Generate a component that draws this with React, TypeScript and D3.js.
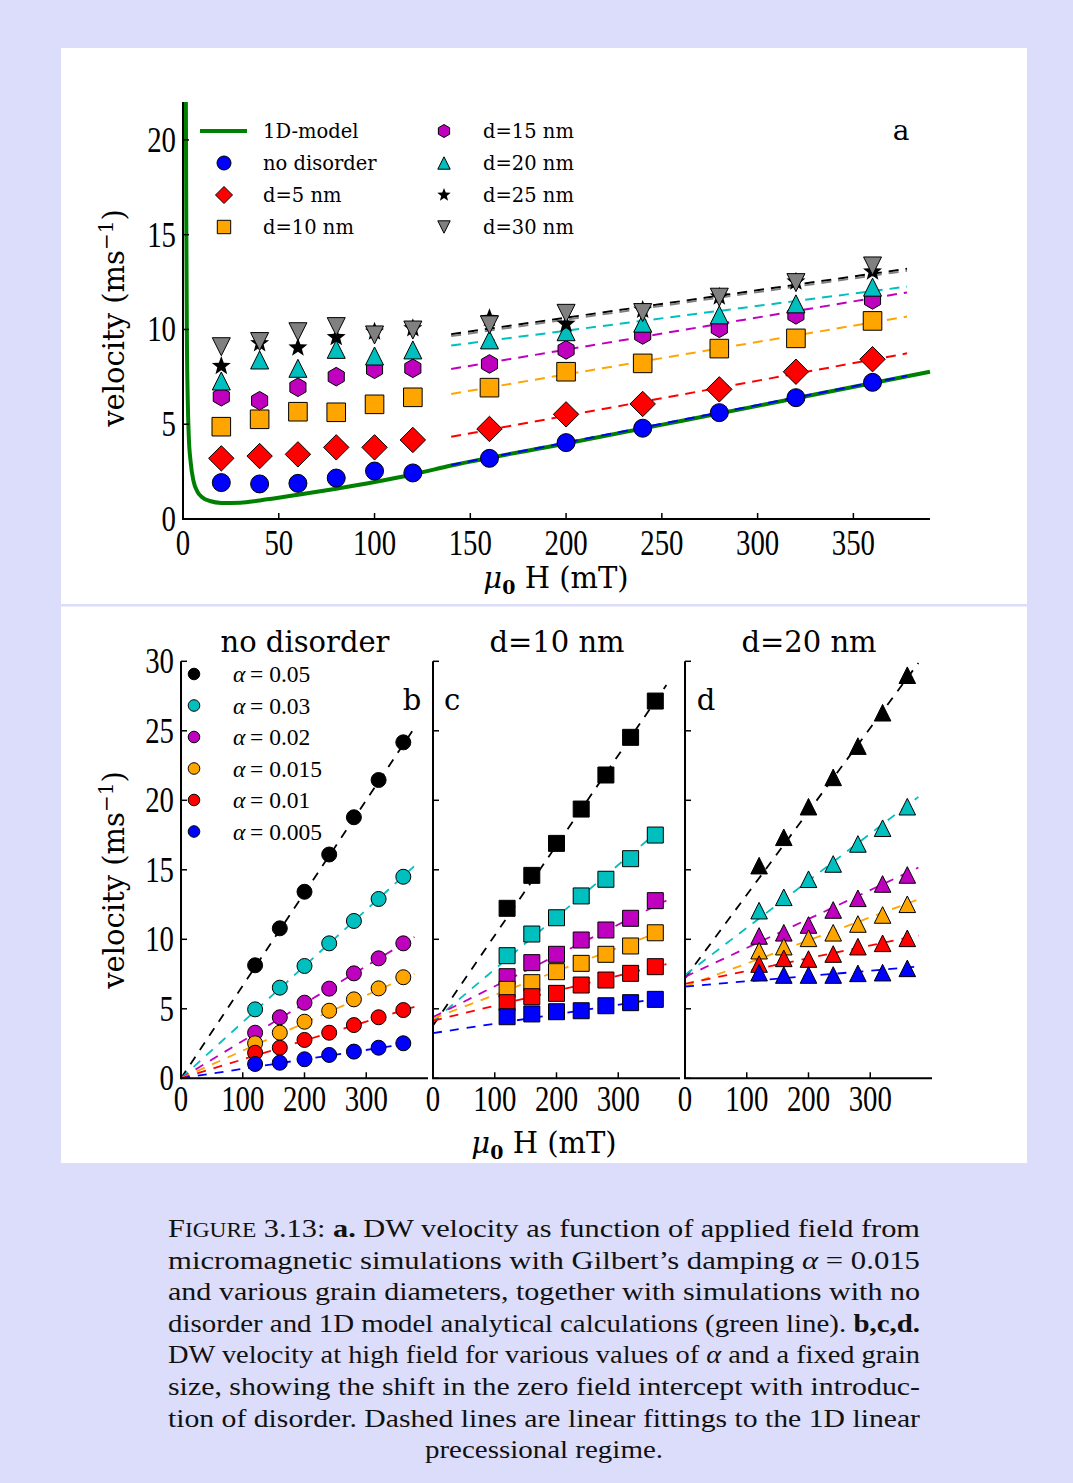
import React from 'react';
import * as d3 from 'd3';

// ---------- Panel a data ----------
const fieldA = [20, 40, 60, 80, 100, 120, 160, 200, 240, 280, 320, 360];
const noDisorderA = [1.92, 1.85, 1.88, 2.16, 2.53, 2.43, 3.2, 4.03, 4.79, 5.61, 6.4, 7.21];
const d5A = [3.2, 3.32, 3.41, 3.78, 3.78, 4.17, 4.75, 5.52, 6.07, 6.84, 7.77, 8.43];
const d10A = [4.87, 5.26, 5.66, 5.63, 6.05, 6.42, 6.93, 7.77, 8.21, 8.99, 9.53, 10.45];
const d15A = [6.45, 6.24, 6.95, 7.51, 7.9, 7.95, 8.18, 8.92, 9.71, 10.06, 10.77, 11.56];
const d20A = [7.28, 8.39, 7.95, 8.95, 8.6, 8.92, 9.45, 9.88, 10.33, 10.77, 11.35, 12.23];
const d25A = [8.07, 9.27, 9.04, 9.59, 9.88, 10.06, 10.59, 10.29, 11.03, 11.73, 12.52, 13.05];
const d30A = [9.09, 9.36, 9.88, 10.15, 9.71, 9.97, 10.24, 10.85, 10.89, 11.7, 12.47, 13.35];
const labelsA = ['no disorder', 'd=5 nm', 'd=10 nm', 'd=15 nm', 'd=20 nm', 'd=25 nm', 'd=30 nm'];
// linear fits (same order as labelsA)
const fitInterceptA = [0.085, 1.75, 4.2, 5.54, 7.32, 7.72, 7.62];
const fitSlopeA = [0.01975, 0.01849, 0.01714, 0.01697, 0.01307, 0.0145, 0.0145];
const fitRangeA = [140, 378];
// 1D model curve
const modelField = [1.5, 1.7, 2.0, 2.5, 3.0, 4.0, 5.5, 7.5, 10, 14, 20, 30, 40, 60, 80, 100, 120, 140, 200, 260, 320, 390];
const modelVel = [22, 16, 10, 6.2, 4.4, 3.0, 2.0, 1.45, 1.15, 0.95, 0.85, 0.86, 0.98, 1.28, 1.6, 1.95, 2.35, 2.82, 3.98, 5.17, 6.37, 7.77];
const xTicksA = [0, 50, 100, 150, 200, 250, 300, 350];
const yTicksA = [0, 5, 10, 15, 20];

// ---------- Panels b, c, d data ----------
const fieldB = [120, 160, 200, 240, 280, 320, 360];
const alphaLabels = ['0.05', '0.03', '0.02', '0.015', '0.01', '0.005'];
const panelTitles = ['no disorder', 'd=10 nm', 'd=20 nm'];
const panelLetters = ['b', 'c', 'd'];
// no disorder
const b05 = [8.13, 10.79, 13.42, 16.1, 18.78, 21.46, 24.17];
const b03 = [4.96, 6.52, 8.08, 9.71, 11.32, 12.9, 14.5];
const b02 = [3.28, 4.39, 5.44, 6.45, 7.55, 8.63, 9.71];
const b015 = [2.52, 3.28, 4.07, 4.86, 5.68, 6.47, 7.27];
const b01 = [1.84, 2.2, 2.76, 3.28, 3.83, 4.39, 4.91];
const b005 = [1.03, 1.12, 1.37, 1.68, 1.92, 2.2, 2.52];
const fitInterceptB = [0, 0, 0, 0, 0, 0];
const fitSlopeB = [0.0667, 0.0404, 0.0269, 0.0199, 0.0136, 0.0068];
// d = 10 nm
const c05 = [12.23, 14.6, 16.9, 19.37, 21.82, 24.53, 27.14];
const c03 = [8.82, 10.38, 11.55, 13.12, 14.32, 15.8, 17.5];
const c02 = [7.31, 8.32, 8.92, 9.95, 10.67, 11.51, 12.78];
const c015 = [6.4, 6.88, 7.67, 8.27, 8.92, 9.52, 10.47];
const c01 = [5.44, 5.87, 6.11, 6.71, 7.07, 7.55, 8.03];
const c005 = [4.43, 4.63, 4.79, 4.86, 5.22, 5.44, 5.68];
const fitInterceptC = [3.8, 4.1, 4.4, 4.3, 4.14, 3.25];
const fitSlopeC = [0.0648, 0.0375, 0.0222, 0.017, 0.0108, 0.0068];
// d = 20 nm
const d05 = [15.3, 17.34, 19.54, 21.65, 23.9, 26.3, 29.0];
const d03 = [12.06, 13.02, 14.32, 15.42, 16.86, 17.99, 19.54];
const d02 = [10.24, 10.47, 11.03, 12.11, 12.95, 13.98, 14.63];
const d015 = [9.18, 9.47, 10.07, 10.47, 11.1, 11.75, 12.52];
const d01 = [8.22, 8.63, 8.58, 8.94, 9.47, 9.71, 10.07];
const d005 = [7.6, 7.43, 7.43, 7.43, 7.55, 7.6, 7.91];
const fitInterceptD = [7.2, 7.43, 7.3, 6.6, 6.8, 6.6];
const fitSlopeD = [0.06, 0.0339, 0.0208, 0.0166, 0.0092, 0.0038];
const fitRangeB = [0, 378];
const xTicksB = [0, 100, 200, 300];
const yTicksB = [0, 5, 10, 15, 20, 25, 30];

// ---------- styles ----------
const BG = '#dcdcfb';
const colA = ['#0000ff', '#ff0000', '#ffa500', '#bf00bf', '#00bfbf', '#000000', '#808080'];
const colB = ['#000000', '#00bfbf', '#bf00bf', '#ffa500', '#ff0000', '#0000ff'];
const TICKFONT = 'Liberation Serif, Times New Roman, serif';
const LABFONT = 'DejaVu Serif, serif';

// custom marker shapes (size param = half-extent)
const circleT = { draw(c: any, r: number) { c.moveTo(r, 0); c.arc(0, 0, r, 0, 2 * Math.PI); } };
const squareT = { draw(c: any, r: number) { c.rect(-r, -r, 2 * r, 2 * r); } };
const diamondT = { draw(c: any, r: number) { c.moveTo(0, -r); c.lineTo(r, 0); c.lineTo(0, r); c.lineTo(-r, 0); c.closePath(); } };
const hexT = {
  draw(c: any, r: number) {
    for (let i = 0; i < 6; i++) {
      const a = (-90 + 60 * i) * Math.PI / 180;
      const px = r * Math.cos(a), py = r * Math.sin(a);
      if (i === 0) c.moveTo(px, py); else c.lineTo(px, py);
    }
    c.closePath();
  },
};
const triUpT = { draw(c: any, r: number) { c.moveTo(0, -r); c.lineTo(r, r); c.lineTo(-r, r); c.closePath(); } };
const triDownT = { draw(c: any, r: number) { c.moveTo(0, r); c.lineTo(r, -r); c.lineTo(-r, -r); c.closePath(); } };
const starT = {
  draw(c: any, r: number) {
    const ri = r * 0.42;
    for (let i = 0; i < 10; i++) {
      const a = (-90 + 36 * i) * Math.PI / 180;
      const rr = i % 2 === 0 ? r : ri;
      const px = rr * Math.cos(a), py = rr * Math.sin(a);
      if (i === 0) c.moveTo(px, py); else c.lineTo(px, py);
    }
    c.closePath();
  },
};
const shapesA = [circleT, diamondT, squareT, hexT, triUpT, starT, triDownT];
const sizesA = [9, 12.7, 9.3, 9.3, 9, 10, 9];
const legSizesA = [7, 8.5, 6.7, 6.5, 6.2, 7, 6.2];
const shapesB = [circleT, squareT, triUpT];
const sizesB = [7.5, 8, 8.3];

const sym = (t: any, r: number) => d3.symbol(t, r)() as string;

const Tick = ({ x, y, anchor, children }: any) => (
  <text transform={`translate(${x},${y}) scale(0.8,1)`} textAnchor={anchor} fontFamily={TICKFONT} fontSize={36} fill="#000">{children}</text>
);

export default function App() {
  const xA = d3.scaleLinear().domain([0, 390]).range([183, 930]);
  const yA = d3.scaleLinear().domain([0, 22]).range([519, 102]);
  const valsA = [noDisorderA, d5A, d10A, d15A, d20A, d25A, d30A];
  const modelLine = d3.line<number>().x((_, i) => xA(modelField[i])).y((d) => yA(d)).curve(d3.curveMonotoneX);

  const yB = d3.scaleLinear().domain([0, 30]).range([1078.3, 661.3]);
  const panelX0 = [181, 433, 685];
  const panelVals = [
    [b05, b03, b02, b015, b01, b005],
    [c05, c03, c02, c015, c01, c005],
    [d05, d03, d02, d015, d01, d005],
  ];
  const panelInt = [fitInterceptB, fitInterceptC, fitInterceptD];
  const panelSlope = [fitSlopeB, fitSlopeC, fitSlopeD];

  const legRows = [131, 163, 195, 227];
  const legPosA = [
    [224, 263, legRows[1]], [224, 263, legRows[2]], [224, 263, legRows[3]],
    [444, 483, legRows[0]], [444, 483, legRows[1]], [444, 483, legRows[2]], [444, 483, legRows[3]],
  ];

  const capX = 168, capW = 752;
  const capBase = (i: number) => 1237 + 31.6 * i;

  return (
    <svg width={1073} height={1483} style={{ position: 'absolute', left: 0, top: 0 }} xmlns="http://www.w3.org/2000/svg">
      <rect x={0} y={0} width={1073} height={1483} fill={BG} />
      <rect x={61} y={48} width={966} height={556} fill="#fff" />
      <rect x={61} y={606.5} width={966} height={556.5} fill="#fff" />

      {/* ================= Panel a ================= */}
      <path d={modelLine(modelVel) as string} fill="none" stroke="#008000" strokeWidth={4} />
      {fitInterceptA.map((a, i) => (
        <line key={'fa' + i} x1={xA(fitRangeA[0])} x2={xA(fitRangeA[1])}
          y1={yA(a + fitSlopeA[i] * fitRangeA[0])} y2={yA(a + fitSlopeA[i] * fitRangeA[1])}
          stroke={colA[i]} strokeWidth={2} strokeDasharray="10,7" />
      ))}
      {valsA.map((vals, si) => (
        <g key={'sa' + si}>
          {vals.map((v, j) => (
            <path key={j} d={sym(shapesA[si], sizesA[si])} transform={`translate(${xA(fieldA[j])},${yA(v)})`}
              fill={colA[si]} stroke={si === 5 ? 'none' : '#000'} strokeWidth={1} />
          ))}
        </g>
      ))}
      {/* axes a */}
      <line x1={xA(0)} x2={xA(0)} y1={yA(0)} y2={yA(22)} stroke="#000" strokeWidth={2} />
      <line x1={xA(0) - 1} x2={xA(390)} y1={yA(0)} y2={yA(0)} stroke="#000" strokeWidth={2} />
      {xTicksA.map((t) => (
        <g key={'xt' + t}>
          <line x1={xA(t)} x2={xA(t)} y1={yA(0)} y2={yA(0) - 6} stroke="#000" strokeWidth={1.5} />
          <Tick x={xA(t)} y={555} anchor="middle">{t}</Tick>
        </g>
      ))}
      {yTicksA.map((t) => (
        <g key={'yt' + t}>
          <line x1={xA(0)} x2={xA(0) + 6} y1={yA(t)} y2={yA(t)} stroke="#000" strokeWidth={1.5} />
          <Tick x={176} y={yA(t) + 12} anchor="end">{t}</Tick>
        </g>
      ))}
      {/* legend a */}
      <line x1={200} x2={247} y1={legRows[0]} y2={legRows[0]} stroke="#008000" strokeWidth={4} />
      <text x={263} y={legRows[0] + 7} fontFamily={LABFONT} fontSize={19.5}>1D-model</text>
      {labelsA.map((lab, i) => (
        <g key={'la' + i}>
          <path d={sym(shapesA[i], legSizesA[i])} transform={`translate(${legPosA[i][0]},${legPosA[i][2]})`}
            fill={colA[i]} stroke={i === 5 ? 'none' : '#000'} strokeWidth={1} />
          <text x={legPosA[i][1]} y={legPosA[i][2] + 7} fontFamily={LABFONT} fontSize={19.5}>{lab}</text>
        </g>
      ))}
      <text x={901} y={140} textAnchor="middle" fontFamily={LABFONT} fontSize={28}>a</text>
      {/* axis labels a */}
      <text transform="translate(124,318) rotate(-90)" textAnchor="middle" fontFamily={LABFONT} fontSize={29}>
        velocity (ms<tspan dy={-11} fontSize={20}>−1</tspan><tspan dy={11}>)</tspan>
      </text>
      <text x={556} y={588} textAnchor="middle" fontFamily={LABFONT} fontSize={29}>
        <tspan fontStyle="italic">μ</tspan><tspan fontSize={19} dy={6} fontWeight="bold">0</tspan><tspan dy={-6}> H (mT)</tspan>
      </text>

      {/* ================= Panels b, c, d ================= */}
      {panelX0.map((x0, p) => {
        const xB = d3.scaleLinear().domain([0, 400]).range([x0, x0 + 247]);
        return (
          <g key={'p' + p}>
            {panelInt[p].map((a, i) => (
              <line key={'fb' + i} x1={xB(fitRangeB[0])} x2={xB(fitRangeB[1])}
                y1={yB(a + panelSlope[p][i] * fitRangeB[0])} y2={yB(Math.min(30, a + panelSlope[p][i] * fitRangeB[1]))}
                stroke={colB[i]} strokeWidth={1.8} strokeDasharray="9,8" />
            ))}
            {panelVals[p].map((vals, si) => (
              <g key={'sb' + si}>
                {vals.map((v, j) => (
                  <path key={j} d={sym(shapesB[p], sizesB[p])} transform={`translate(${xB(fieldB[j])},${yB(v)})`}
                    fill={colB[si]} stroke="#000" strokeWidth={1} />
                ))}
              </g>
            ))}
            <line x1={x0} x2={x0} y1={yB(0)} y2={yB(30)} stroke="#000" strokeWidth={2} />
            <line x1={x0 - 1} x2={xB(400)} y1={yB(0)} y2={yB(0)} stroke="#000" strokeWidth={2} />
            {xTicksB.map((t) => (
              <g key={'xb' + t}>
                <line x1={xB(t)} x2={xB(t)} y1={yB(0)} y2={yB(0) - 6} stroke="#000" strokeWidth={1.5} />
                <Tick x={xB(t)} y={1111} anchor="middle">{t}</Tick>
              </g>
            ))}
            {yTicksB.map((t) => (
              <g key={'yb' + t}>
                <line x1={x0} x2={x0 + 6} y1={yB(t)} y2={yB(t)} stroke="#000" strokeWidth={1.5} />
                {p === 0 && <Tick x={174} y={yB(t) + 12} anchor="end">{t}</Tick>}
              </g>
            ))}
            <text x={x0 + 124} y={652} textAnchor="middle" fontFamily={LABFONT} fontSize={29}>{panelTitles[p]}</text>
          </g>
        );
      })}
      <text x={412} y={710} textAnchor="middle" fontFamily={LABFONT} fontSize={29}>{panelLetters[0]}</text>
      <text x={452} y={710} textAnchor="middle" fontFamily={LABFONT} fontSize={29}>{panelLetters[1]}</text>
      <text x={706} y={710} textAnchor="middle" fontFamily={LABFONT} fontSize={29}>{panelLetters[2]}</text>
      {/* legend b */}
      {alphaLabels.map((lab, i) => {
        const ly = 674 + 31.5 * i;
        return (
          <g key={'lb' + i}>
            <path d={sym(circleT, 5.8)} transform={`translate(194,${ly})`} fill={colB[i]} stroke="#000" strokeWidth={1} />
            <text x={233} y={ly + 8} fontFamily={TICKFONT} fontSize={23.5}>
              <tspan fontStyle="italic">α</tspan>{'\u2009'}= {lab}
            </text>
          </g>
        );
      })}
      <text transform="translate(124,880) rotate(-90)" textAnchor="middle" fontFamily={LABFONT} fontSize={29}>
        velocity (ms<tspan dy={-11} fontSize={20}>−1</tspan><tspan dy={11}>)</tspan>
      </text>
      <text x={544} y={1153} textAnchor="middle" fontFamily={LABFONT} fontSize={29}>
        <tspan fontStyle="italic">μ</tspan><tspan fontSize={19} dy={6} fontWeight="bold">0</tspan><tspan dy={-6}> H (mT)</tspan>
      </text>

      {/* ================= Caption ================= */}
      <g fontFamily={TICKFONT} fontSize={26} fill="#111">
        <text x={capX} y={capBase(0)} textLength={capW} lengthAdjust="spacingAndGlyphs">
          F<tspan fontSize={20}>IGURE</tspan> 3.13:  <tspan fontWeight="bold">a.</tspan>  DW velocity as function of applied field from
        </text>
        <text x={capX} y={capBase(1)} textLength={capW} lengthAdjust="spacingAndGlyphs">
          micromagnetic simulations with Gilbert’s damping <tspan fontStyle="italic">α</tspan>  =  0.015
        </text>
        <text x={capX} y={capBase(2)} textLength={capW} lengthAdjust="spacingAndGlyphs">
          and various grain diameters, together with simulations with no
        </text>
        <text x={capX} y={capBase(3)} textLength={capW} lengthAdjust="spacingAndGlyphs">
          disorder and 1D model analytical calculations (green line). <tspan fontWeight="bold">b,c,d.</tspan>
        </text>
        <text x={capX} y={capBase(4)} textLength={capW} lengthAdjust="spacingAndGlyphs">
          DW velocity at high field for various values of <tspan fontStyle="italic">α</tspan> and a fixed grain
        </text>
        <text x={capX} y={capBase(5)} textLength={capW} lengthAdjust="spacingAndGlyphs">
          size, showing the shift in the zero field intercept with introduc-
        </text>
        <text x={capX} y={capBase(6)} textLength={capW} lengthAdjust="spacingAndGlyphs">
          tion of disorder.  Dashed lines are linear fittings to the 1D linear
        </text>
        <text x={544} y={capBase(7)} textAnchor="middle" textLength={238} lengthAdjust="spacingAndGlyphs">
          precessional regime.
        </text>
      </g>
    </svg>
  );
}
